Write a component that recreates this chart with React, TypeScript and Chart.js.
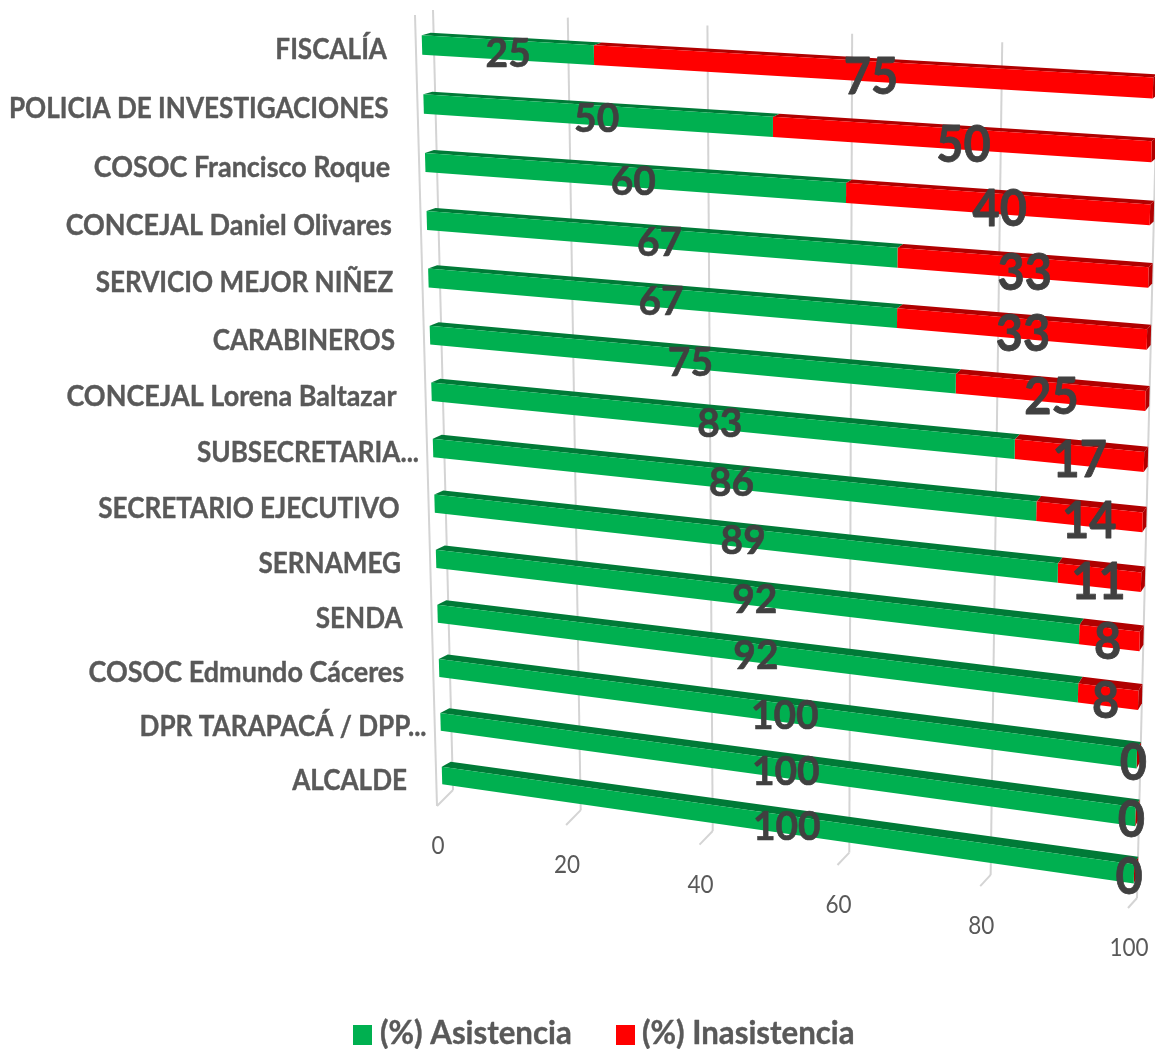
import React, { useEffect, useRef } from "react";
import { Chart, registerables } from "chart.js";

Chart.register(...registerables);

const categories = [
  "FISCALÍA",
  "POLICIA DE INVESTIGACIONES",
  "COSOC Francisco Roque",
  "CONCEJAL Daniel Olivares",
  "SERVICIO MEJOR NIÑEZ",
  "CARABINEROS",
  "CONCEJAL Lorena Baltazar",
  "SUBSECRETARIA...",
  "SECRETARIO EJECUTIVO",
  "SERNAMEG",
  "SENDA",
  "COSOC Edmundo Cáceres",
  "DPR TARAPACÁ / DPP...",
  "ALCALDE",
];
const asistencia = [25, 50, 60, 67, 67, 75, 83, 86, 89, 92, 92, 100, 100, 100];
const inasistencia = [75, 50, 40, 33, 33, 25, 17, 14, 11, 8, 8, 0, 0, 0];
const asistenciaLabel = "(%) Asistencia";
const inasistenciaLabel = "(%) Inasistencia";

const FONT = "Lato, Carlito, sans-serif";
const TEXT = "#595959";
const LABEL = "#404040";
const GRID = "#d4d4d4";
const GREEN = "#00b050";
const GREEN_DARK = "#007a37";
const RED = "#ff0000";
const RED_DARK = "#b00000";

type Pt = [number, number];

function homography(p00: Pt, p10: Pt, p01: Pt, p11: Pt) {
  const dx1 = p10[0] - p11[0];
  const dx2 = p01[0] - p11[0];
  const sx = p00[0] - p10[0] + p11[0] - p01[0];
  const dy1 = p10[1] - p11[1];
  const dy2 = p01[1] - p11[1];
  const sy = p00[1] - p10[1] + p11[1] - p01[1];
  const det = dx1 * dy2 - dx2 * dy1;
  const g = (sx * dy2 - dx2 * sy) / det;
  const h = (dx1 * sy - sx * dy1) / det;
  const a = p10[0] - p00[0] + g * p10[0];
  const b = p01[0] - p00[0] + h * p01[0];
  const d = p10[1] - p00[1] + g * p10[1];
  const e = p01[1] - p00[1] + h * p01[1];
  return (u: number, v: number): Pt => {
    const w = g * u + h * v + 1;
    return [(a * u + b * v + p00[0]) / w, (d * u + e * v + p00[1]) / w];
  };
}

// The bars' plane and the back wall, as seen in perspective.
const barPlane = homography([422, 45], [1153, 88], [442, 775.5], [1134, 874]);
const wallPlane = homography([433, 10], [1158, 51], [453, 790], [1137, 898]);

const lerp = (a: number, b: number, t: number) => a + (b - a) * t;
const depth = (p: Pt, u: number, v: number): Pt => [
  p[0] + lerp(9, 4, u),
  p[1] - lerp(lerp(2.5, 3, u), lerp(5, 8, u), v),
];

function poly(ctx: CanvasRenderingContext2D, pts: Pt[], color: string) {
  ctx.beginPath();
  pts.forEach((p, i) => (i ? ctx.lineTo(p[0], p[1]) : ctx.moveTo(p[0], p[1])));
  ctx.closePath();
  ctx.fillStyle = color;
  ctx.fill();
}

function line(ctx: CanvasRenderingContext2D, a: Pt, b: Pt) {
  ctx.beginPath();
  ctx.moveTo(a[0], a[1]);
  ctx.lineTo(b[0], b[1]);
  ctx.stroke();
}

function text(
  ctx: CanvasRenderingContext2D,
  s: string,
  x: number,
  y: number,
  size: number,
  weight: string,
  color: string,
  align: CanvasTextAlign = "center",
  hs = 0.88,
  embolden = 0,
) {
  ctx.save();
  ctx.translate(x, y);
  ctx.scale(hs, 1);
  ctx.font = `${weight} ${size}px ${FONT}`;
  ctx.fillStyle = color;
  ctx.textAlign = align;
  ctx.textBaseline = "middle";
  ctx.fillText(s, 0, 0);
  if (embolden) {
    ctx.strokeStyle = color;
    ctx.lineWidth = embolden;
    ctx.lineJoin = "round";
    ctx.strokeText(s, 0, 0);
  }
  ctx.restore();
}

function coords(chart: any) {
  const { x, y } = chart.scales;
  const y0 = y.getPixelForValue(0);
  const yn = y.getPixelForValue(categories.length - 1);
  return {
    u: (px: number) => (px - x.left) / (x.right - x.left),
    v: (py: number) => (py - y0) / (yn - y0),
  };
}

const perspectivePlugin = {
  id: "perspective",
  beforeDatasetsDraw(chart: any) {
    const ctx = chart.ctx;
    const { x } = chart.scales;
    const { u: toU } = coords(chart);
    ctx.save();
    ctx.strokeStyle = GRID;
    ctx.lineWidth = 2;
    x.ticks.forEach((t: any) => {
      const u = toU(x.getPixelForValue(t.value));
      const top = wallPlane(u, 0);
      const bottom = wallPlane(u, 1);
      const floor: Pt = [bottom[0] - lerp(16, 9, u), bottom[1] + lerp(16, 10, u)];
      line(ctx, top, bottom);
      line(ctx, bottom, floor);
      if (t.value === 0) line(ctx, [top[0] - 18, top[1] + 5], floor);
      text(ctx, String(t.value), floor[0] + 1, floor[1] + 40, 25, "400", TEXT, "center", 0.9);
    });
    ctx.restore();
  },
  beforeDatasetDraw(chart: any, args: any) {
    const ctx = chart.ctx;
    const { u: toU, v: toV } = coords(chart);
    const meta = chart.getDatasetMeta(args.index);
    const last = args.index === chart.data.datasets.length - 1;
    const front = args.index === 0 ? GREEN : RED;
    const dark = args.index === 0 ? GREEN_DARK : RED_DARK;
    meta.data.forEach((el: any) => {
      const u0 = toU(el.base);
      const u1 = toU(el.x);
      const vt = toV(el.y - el.height / 2);
      const vb = toV(el.y + el.height / 2);
      const a = barPlane(u0, vt);
      const b = barPlane(u1, vt);
      const c = barPlane(u1, vb);
      const d = barPlane(u0, vb);
      if (last) poly(ctx, [b, c, depth(c, u1, vb), depth(b, u1, vt)], dark);
      poly(ctx, [a, b, depth(b, u1, vt), depth(a, u0, vt)], dark);
      if (u1 > u0) poly(ctx, [a, b, c, d], front);
    });
    return false;
  },
  afterDraw(chart: any) {
    const ctx = chart.ctx;
    const { y } = chart.scales;
    const { u: toU, v: toV } = coords(chart);

    y.ticks.forEach((_: any, i: number) => {
      const label = categories[i];
      const p = barPlane(0, toV(y.getPixelForValue(i)));
      const right = p[0] - 35 + (label.endsWith("...") ? 21 : 0);
      const hs = /[a-z]/.test(label) ? 0.93 : 0.9;
      text(ctx, label, right, p[1] + 5, 29, "700", TEXT, "right", hs, 0.4);
    });

    chart.data.datasets.forEach((ds: any, di: number) => {
      const meta = chart.getDatasetMeta(di);
      meta.data.forEach((el: any, i: number) => {
        const u = toU((el.base + el.x) / 2);
        const v = toV(el.y);
        const p = barPlane(u, v);
        if (di === 0) {
          text(ctx, String(ds.data[i]), p[0] + lerp(1, 12, v), p[1] + 4, 41, "700", LABEL, "center", 0.95, 0.6);
        } else {
          text(ctx, String(ds.data[i]), p[0] + lerp(6, -5, v), p[1] + lerp(6.5, 4, v), 51, "700", LABEL, "center", 0.92, 0.8);
        }
      });
    });

    const legend = [
      { x: 353, tx: 380 },
      { x: 616, tx: 642 },
    ];
    chart.data.datasets.forEach((ds: any, di: number) => {
      const l = legend[di];
      ctx.fillStyle = ds.backgroundColor;
      ctx.fillRect(l.x, 1025, 19, 20);
      text(ctx, ds.label, l.tx, 1033, 33, "700", TEXT, "left", 0.945, 0.4);
    });
  },
};

export default function App() {
  const ref = useRef<HTMLCanvasElement>(null);
  useEffect(() => {
    const chart = new Chart(ref.current!, {
      type: "bar",
      data: {
        labels: categories,
        datasets: [
          { label: asistenciaLabel, data: asistencia, backgroundColor: GREEN },
          { label: inasistenciaLabel, data: inasistencia, backgroundColor: RED },
        ],
      },
      options: {
        indexAxis: "y",
        animation: false,
        responsive: false,
        barPercentage: 0.33,
        categoryPercentage: 1,
        layout: { padding: 0 },
        plugins: { legend: { display: false }, tooltip: { enabled: false } },
        scales: {
          x: { stacked: true, min: 0, max: 100, ticks: { stepSize: 20 }, display: false },
          y: { stacked: true, display: false, ticks: { autoSkip: false } },
        },
      } as any,
      plugins: [perspectivePlugin],
    });
    return () => chart.destroy();
  }, []);
  return (
    <canvas
      ref={ref}
      width={1155}
      height={1049}
      style={{ position: "absolute", left: 0, top: 0, background: "#fff", filter: "blur(0.5px)" }}
    />
  );
}
